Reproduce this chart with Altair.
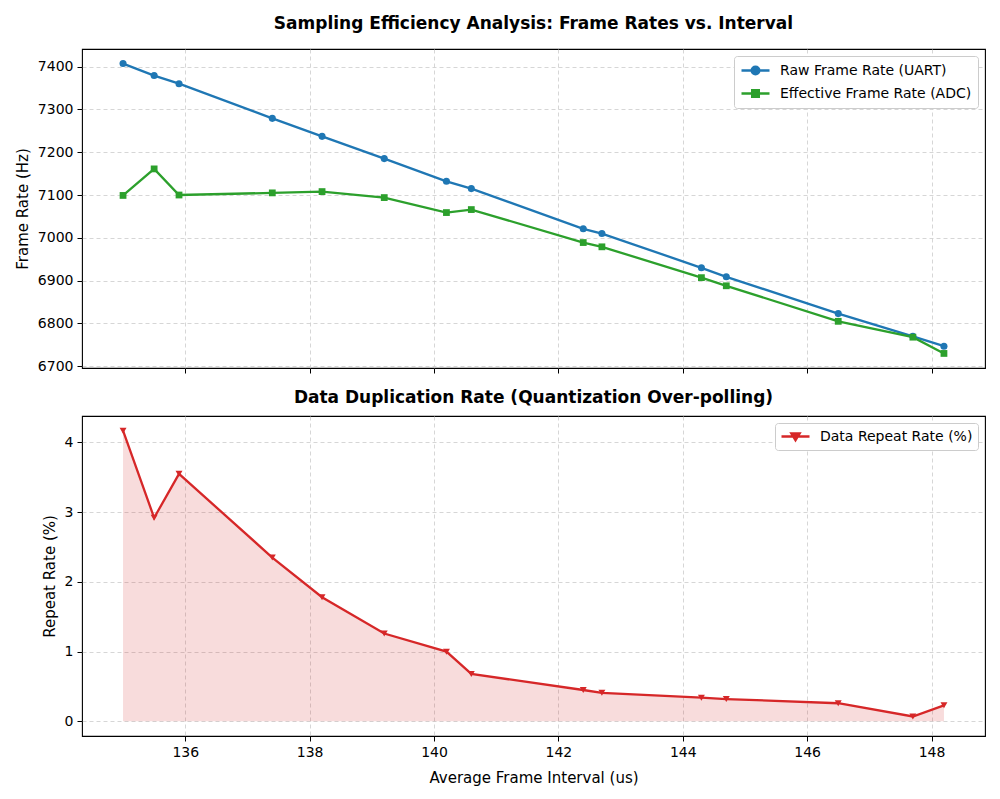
import altair as alt
import pandas as pd

intervals = [135.0, 135.5, 135.9, 137.4, 138.2, 139.2, 140.2, 140.6, 142.4, 142.7, 144.3, 144.7, 146.5, 147.7, 148.2]
raw_rate = [7407, 7379, 7360, 7279, 7237, 7185, 7132, 7115, 7021, 7010, 6930, 6909, 6823, 6770, 6747]
eff_rate = [7099, 7161, 7100, 7105, 7108, 7094, 7059, 7066, 6989, 6979, 6907, 6888, 6805, 6768, 6730]
repeat_rate = [4.17, 2.92, 3.55, 2.35, 1.78, 1.26, 1.00, 0.68, 0.45, 0.41, 0.34, 0.32, 0.26, 0.07, 0.23]

RAW = "Raw Frame Rate (UART)"
EFF = "Effective Frame Rate (ADC)"
REP = "Data Repeat Rate (%)"
BLUE, GREEN, RED = "#1f77b4", "#2ca02c", "#d62728"
FONT = "DejaVu Sans"
LW = 2.3

top_df = pd.DataFrame(
    {"x": intervals * 2, "y": raw_rate + eff_rate, "series": [RAW] * len(intervals) + [EFF] * len(intervals)}
)
bot_df = pd.DataFrame({"x": intervals, "y": repeat_rate, "series": [REP] * len(intervals)})

W, H1, H2 = 903, 319, 320
xdom = [134.34, 148.86]
xticks = [136, 138, 140, 142, 144, 146, 148]

circle_path = "M-2,0L2,0M0.55,0A0.55,0.55,0,1,1,-0.55,0A0.55,0.55,0,1,1,0.55,0Z"
square_path = "M-2,0L2,0M-0.48,-0.48H0.48V0.48H-0.48Z"
tri_path = "M-2,0L2,0M-0.6,-0.45L0.6,-0.45L0,0.55Z"

grid = dict(grid=True, gridDash=[4, 3], gridColor="#cccccc", gridWidth=0.8, domain=False,
            tickColor="black", tickSize=5, tickWidth=1, labelFont=FONT, labelFontSize=14,
            labelColor="black", titleFont=FONT, titleFontSize=15, titleFontWeight="normal",
            titleColor="black", labelPadding=4, format="d")


def legend(pad):
    return alt.Legend(
        title=None, orient="top-right", offset=7, labelFont=FONT, labelFontSize=14, labelColor="black",
        labelLimit=400, symbolSize=196, strokeColor="#cccccc", fillColor="white", cornerRadius=3,
        padding=pad, rowPadding=6, labelOffset=16, symbolOffset=7, symbolStrokeWidth=LW,
        symbolOpacity=1,
    )


x_top = alt.X("x:Q", scale=alt.Scale(domain=xdom, nice=False, zero=False),
              axis=alt.Axis(values=xticks, labels=False, title=None, **grid))
y_top = alt.Y("y:Q", scale=alt.Scale(domain=[6696, 7441], nice=False, zero=False),
              axis=alt.Axis(values=list(range(6700, 7401, 100)), title="Frame Rate (Hz)", titlePadding=7, **grid))

base_top = alt.Chart(top_df).encode(x=x_top, y=y_top)
raw_line = base_top.mark_line(strokeWidth=LW, color=BLUE).transform_filter(alt.datum.series == RAW)
eff_line = base_top.mark_line(strokeWidth=LW, color=GREEN).transform_filter(alt.datum.series == EFF)
raw_pts = base_top.mark_point(filled=True, opacity=1, size=50, shape="circle", color=BLUE).transform_filter(
    alt.datum.series == RAW)
eff_pts = base_top.mark_point(filled=True, opacity=1, size=46, shape="square", color=GREEN).transform_filter(
    alt.datum.series == EFF)
top_leg = base_top.mark_point(filled=True, opacity=1, strokeWidth=LW).encode(
    color=alt.Color("series:N", scale=alt.Scale(domain=[RAW, EFF], range=[BLUE, GREEN]), legend=legend(6)),
    stroke=alt.Stroke("series:N", scale=alt.Scale(domain=[RAW, EFF], range=[BLUE, GREEN]), legend=legend(6)),
    shape=alt.Shape("series:N", scale=alt.Scale(domain=[RAW, EFF], range=[circle_path, square_path]),
                    legend=legend(6)),
).transform_filter("false")

top = alt.layer(raw_line, eff_line, raw_pts, eff_pts, top_leg).properties(
    width=W, height=H1,
    title=alt.TitleParams("Sampling Efficiency Analysis: Frame Rates vs. Interval", font=FONT, fontSize=17,
                          fontWeight="bold", color="black", offset=16),
)

x_bot = alt.X("x:Q", scale=alt.Scale(domain=xdom, nice=False, zero=False),
              axis=alt.Axis(values=xticks, title="Average Frame Interval (us)", titlePadding=11, **grid))
y_bot = alt.Y("y:Q", scale=alt.Scale(domain=[-0.21, 4.38], nice=False, zero=False),
              axis=alt.Axis(values=[0, 1, 2, 3, 4], title="Repeat Rate (%)", titlePadding=7, **grid))

base_bot = alt.Chart(bot_df).encode(x=x_bot, y=y_bot)
bot_area = base_bot.mark_area(color=RED, opacity=0.16).encode(y2=alt.datum(0))
bot_line = base_bot.mark_line(strokeWidth=LW, color=RED)
bot_pts = base_bot.mark_point(filled=True, opacity=1, size=48, shape="triangle-down", color=RED)
bot_leg = base_bot.mark_point(filled=True, opacity=1, strokeWidth=LW).encode(
    color=alt.Color("series:N", scale=alt.Scale(domain=[REP], range=[RED]), legend=legend(5)),
    stroke=alt.Stroke("series:N", scale=alt.Scale(domain=[REP], range=[RED]), legend=legend(5)),
    shape=alt.Shape("series:N", scale=alt.Scale(domain=[REP], range=[tri_path]), legend=legend(5)),
).transform_filter("false")

bot = alt.layer(bot_area, bot_line, bot_pts, bot_leg).properties(
    width=W, height=H2,
    title=alt.TitleParams("Data Duplication Rate (Quantization Over-polling)", font=FONT, fontSize=17,
                          fontWeight="bold", color="black", offset=9),
)

chart = alt.vconcat(top, bot, spacing=13).resolve_scale(
    color="independent", stroke="independent", shape="independent"
).resolve_legend(color="independent", stroke="independent", shape="independent").properties(
    padding={"left": 14, "top": 14, "right": 10, "bottom": 5}, background="white"
).configure_view(stroke="black", strokeWidth=1.1)

chart.save("out.html", embed_options={"renderer": "svg", "actions": False})
